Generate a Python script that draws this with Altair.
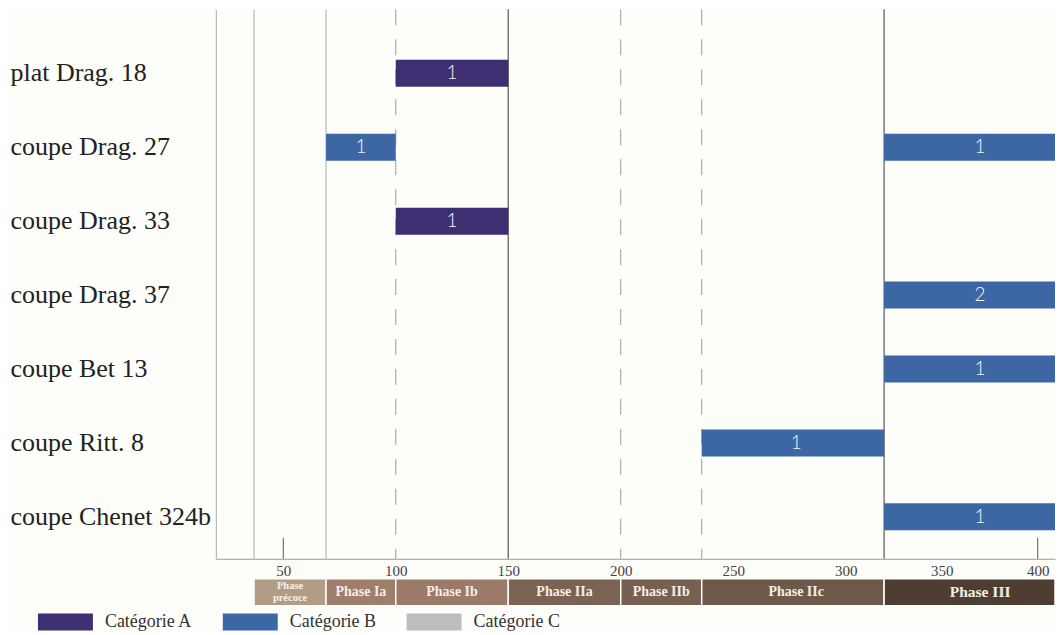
import altair as alt
import pandas as pd

# ---- data ----
rows = ["plat Drag. 18", "coupe Drag. 27", "coupe Drag. 33", "coupe Drag. 37",
        "coupe Bet 13", "coupe Ritt. 8", "coupe Chenet 324b"]

bar_rows = ["plat Drag. 18", "coupe Drag. 27", "coupe Drag. 27", "coupe Drag. 33",
            "coupe Drag. 37", "coupe Bet 13", "coupe Ritt. 8", "coupe Chenet 324b"]
bar_cats = ["Catégorie A", "Catégorie B", "Catégorie B", "Catégorie A",
            "Catégorie B", "Catégorie B", "Catégorie B", "Catégorie B"]
bar_start = [100, 69, 320, 100, 320, 320, 236, 320]
bar_end = [150, 100, 420, 150, 420, 420, 320, 420]
bar_count = [1, 1, 1, 1, 2, 1, 1, 1]

cats = ["Catégorie A", "Catégorie B", "Catégorie C"]
cat_colors = ["#3f2e72", "#3d66a5", "#bdbdbd"]

phase_names = ["Phase\nprécoce", "Phase Ia", "Phase Ib", "Phase IIa",
               "Phase IIb", "Phase IIc", "Phase III"]
phase_start = [37, 69, 100, 150, 200, 236, 320]
phase_end = [69, 100, 150, 200, 236, 320, 420]
phase_colors = ["#b29c85", "#9f7e6b", "#9b7a69", "#7b6353",
                "#766050", "#6d5949", "#4e3e31"]

tick_vals = [50, 100, 150, 200, 250, 300, 350, 400]
minor_ticks = [50, 400]
light_lines = [37, 69]
dashed_lines = [100, 200, 236]
dark_lines = [150, 320]

# ---- tables ----
bars_df = pd.DataFrame({"row": bar_rows, "cat": bar_cats, "start": bar_start,
                        "end": bar_end, "count": bar_count})
phase_df = pd.DataFrame({"name": phase_names, "start": phase_start, "end": phase_end})
light_df = pd.DataFrame({"x": light_lines})
dashed_df = pd.DataFrame({"x": dashed_lines})
dark_df = pd.DataFrame({"x": dark_lines})
minor_df = pd.DataFrame({"x": minor_ticks})

SERIF = "Liberation Serif"

xscale = alt.Scale(domain=[20, 300, 409], range=[0, 630.5, 840],
                   clamp=True, nice=False, zero=False)
yscale = alt.Scale(domain=rows, paddingInner=0.635, paddingOuter=0.534, align=0.64)

x_axis = alt.Axis(values=tick_vals, title=None, ticks=False, grid=False,
                  labelFont=SERIF, labelFontSize=15, labelColor="#444444",
                  labelPadding=5, domainColor="#9a9a9a", domainWidth=1)
y_axis = alt.Axis(title=None, ticks=False, tickSize=0, labelAlign="left",
                  labelBaseline="middle", labelPadding=206, labelLimit=400,
                  labelFont=SERIF, labelFontSize=26, labelColor="#222222",
                  domain=True, domainColor="#ababab", grid=False)


def X(field):
    return alt.X(field, scale=xscale, axis=x_axis)


light = alt.Chart(light_df).mark_rule(color="#ababab", strokeWidth=1).encode(x=X("x:Q"))
dashed = alt.Chart(dashed_df).mark_rule(color="#9a9a9a", strokeWidth=1,
                                        strokeDash=[16, 14]).encode(x=X("x:Q"))
dark = alt.Chart(dark_df).mark_rule(color="#707070", strokeWidth=1.4).encode(x=X("x:Q"))
minor = alt.Chart(minor_df).mark_rule(color="#555555", strokeWidth=1).encode(
    x=X("x:Q"), y=alt.value(529), y2=alt.value(550))

bars = alt.Chart(bars_df).mark_bar().encode(
    x=X("start:Q"),
    x2="end:Q",
    y=alt.Y("row:N", scale=yscale, sort=rows, axis=y_axis),
    color=alt.Color("cat:N", scale=alt.Scale(domain=cats, range=cat_colors),
                    legend=alt.Legend(title=None, orient="none", legendX=-178, legendY=585.5,
                                      direction="horizontal",
                                      symbolType="M-1,-0.31L1,-0.31L1,0.31L-1,0.31Z",
                                      symbolSize=3025, symbolStrokeWidth=0,
                                      symbolOpacity=1,
                                      labelFont=SERIF, labelFontSize=18,
                                      labelColor="#333333", labelOffset=12,
                                      columnPadding=30, padding=0)),
)

bar_text = alt.Chart(bars_df).transform_calculate(
    mid="(datum.start + datum.end) / 2"
).mark_text(font="Lato", fontSize=19, fontWeight=300, color="#f4f4f4",
            baseline="middle", align="center").encode(
    x=X("mid:Q"),
    y=alt.Y("row:N", scale=yscale, sort=rows, axis=y_axis),
    text="count:Q")

phase_rect = alt.Chart(phase_df).mark_rect(stroke="#fdfdfa", strokeWidth=1.5).encode(
    x=X("start:Q"),
    x2="end:Q",
    y=alt.value(570), y2=alt.value(597),
    fill=alt.Fill("name:N", scale=alt.Scale(domain=phase_names, range=phase_colors),
                  legend=None))

phase_base = alt.Chart(phase_df).transform_calculate(
    mid="(datum.start + datum.end) / 2")

phase_text = phase_base.transform_filter(
    "datum.name != 'Phase III' && indexof(datum.name, '\\n') < 0"
).mark_text(font=SERIF, fontSize=14, fontWeight="bold", color="#f5eee8",
            baseline="middle", align="center").encode(
    x=X("mid:Q"), y=alt.value(583), text="name:N")

phase_text3 = phase_base.transform_filter("datum.name == 'Phase III'").mark_text(
    font=SERIF, fontSize=15.5, fontWeight="bold", color="#f5eee8",
    baseline="middle", align="center").encode(
    x=X("mid:Q"), y=alt.value(583), text="name:N")

phase_text_p = phase_base.transform_filter("indexof(datum.name, '\\n') >= 0").mark_text(
    font=SERIF, fontSize=10.5, fontWeight="bold", color="#f7f1ea", lineBreak="\n",
    lineHeight=12, baseline="middle", align="center").encode(
    x=X("mid:Q"), y=alt.value(577), text="name:N")

chart = alt.layer(light, dashed, dark, minor, bars, bar_text, phase_rect,
                  phase_text, phase_text3, phase_text_p).properties(
    width=840, height=550,
    padding={"left": 2, "top": 0, "right": 0, "bottom": 0},
).configure(background="#fdfdfa").configure_view(strokeWidth=0)

chart.save("out.html", embed_options={"renderer": "svg", "actions": False})
